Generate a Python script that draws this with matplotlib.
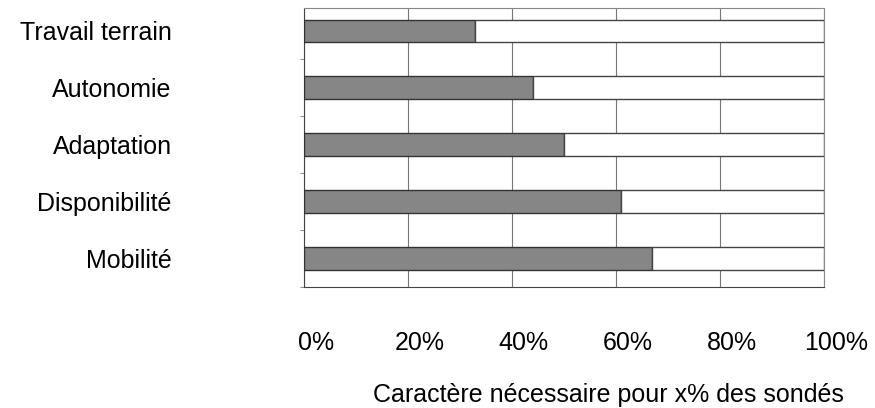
import matplotlib.pyplot as plt
import matplotlib.transforms as mtransforms
import numpy as np

plt.rcParams['font.family'] = ['Liberation Sans', 'DejaVu Sans']

# categories bottom to top
categories = ['Mobilité', 'Disponibilité', 'Adaptation', 'Autonomie', 'Travail terrain']
values = [67, 61, 50, 44, 33]  # % des sondés
xticks = [0, 20, 40, 60, 80, 100]

fig = plt.figure(figsize=(8.75, 4.08), dpi=100)
ax = fig.add_axes((0.347, 0.297, 0.595, 0.683))

y = np.arange(len(categories))
rest = [100 - v for v in values]
ax.barh(y, values, height=0.4, color='#868686', edgecolor='#333333', linewidth=1.0, zorder=3)
ax.barh(y, rest, left=values, height=0.4, color='white', edgecolor='#444444', linewidth=1.0, zorder=3)

ax.set_xlim(0, 100)
ax.set_ylim(-0.5, 4.4)
ax.set_xticks(xticks)
ax.set_xticklabels([f'{t}%' for t in xticks], fontsize=18)
ax.tick_params(axis='x', length=0, pad=32)
ax.grid(axis='x', color='#777777', linewidth=0.8, zorder=0)
# labels sit a little right of the gridlines in the original
shift = mtransforms.ScaledTranslation(12 / 100, 0, fig.dpi_scale_trans)
for lbl in ax.get_xticklabels():
    lbl.set_transform(lbl.get_transform() + shift)

ax.set_yticks(y)
ax.set_yticklabels(categories, fontsize=18, ha='right')
ax.tick_params(axis='y', length=0, pad=95)
ax.set_yticks(np.arange(-0.5, 4.5, 1.0), minor=True)
ax.tick_params(axis='y', which='minor', length=3, color='#777777')

for s in ['top', 'right']:
    ax.spines[s].set_color('#888888')
    ax.spines[s].set_linewidth(0.8)
for s in ['left', 'bottom']:
    ax.spines[s].set_color('#444444')

ax.set_xlabel('Caractère nécessaire pour x% des sondés', fontsize=18)
ax.xaxis.set_label_coords(0.585, -0.345)

plt.savefig('out.png', dpi=100)
